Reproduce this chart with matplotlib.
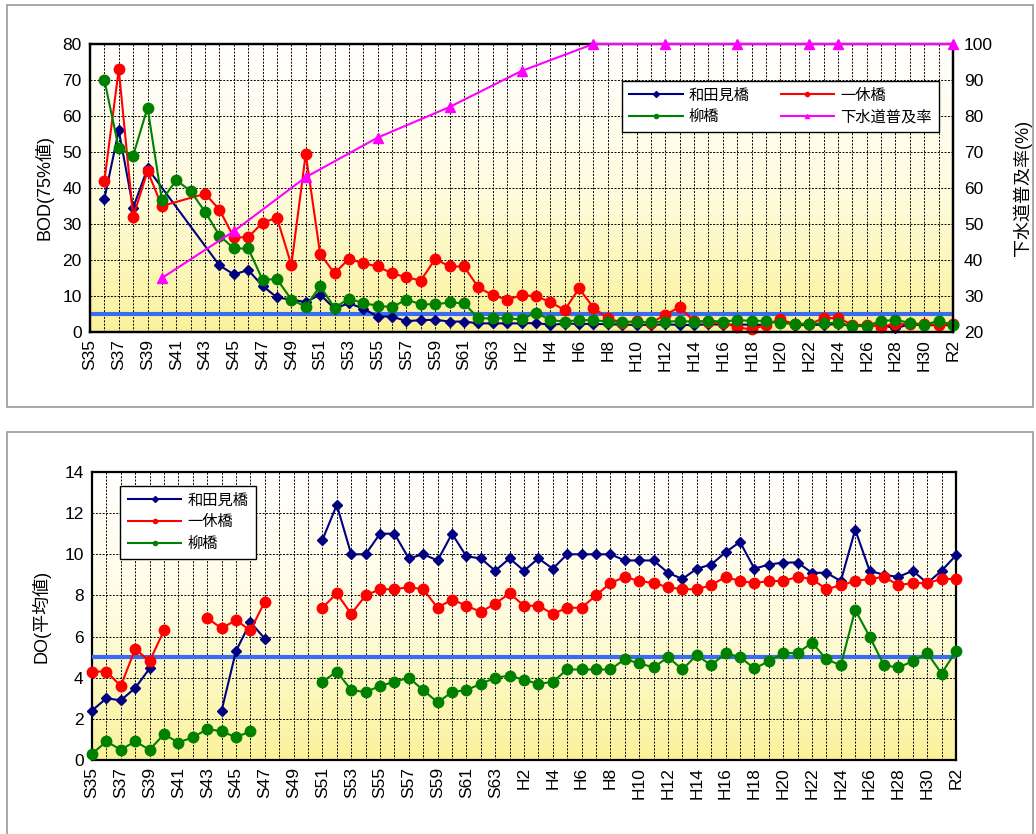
import numpy as np
import matplotlib
matplotlib.use("Agg")
import matplotlib.pyplot as plt
from matplotlib.lines import Line2D
from matplotlib.patches import Rectangle
from matplotlib.colors import LinearSegmentedColormap

plt.rcParams['font.family'] = ['Liberation Sans', 'Noto Sans CJK JP', 'DejaVu Sans']

nan = np.nan

# Years S35 .. S63, H1 .. H31(R1), R2
YEARS = ([f"S{y}" for y in range(35, 64)] + [f"H{y}" for y in range(1, 31)]
         + ["R1", "R2"])
TICK_LABELS = [y if i % 2 == 0 else "" for i, y in enumerate(YEARS)]

# BOD (75% value)
BOD_WADAMI = [nan, 37, 56, 34.5, 45.5, nan, nan, nan, nan, 18.5,
              16, 17.2, 12.8, 9.6, 9, 8.3, 10.4, 6.5, 8, 6.5,
              4.3, 4.3, 3, 3.3, 3.4, 2.9, 2.9, 2.4, 2.4, 2.4,
              2.4, 2.5, 2.0, 2.3, 2.3, 2.2, 2.2, 2.0, 2.0, 2.0,
              2.1, 2.0, 1.9, 2.2, 2.0, 2.1, 2.0, 2.0, 3.5, 1.8,
              2.0, 2.0, 2.2, 1.7, 1.6, 2.0, 1.0, 2.2, 1.8, 2.0, 1.8]
BOD_IKKYU = [nan, 42, 73, 32, 44.7, 35, nan, nan, 38.4, 34,
             26.3, 26.3, 30.4, 31.7, 18.6, 49.5, 21.7, 16.3, 20.3, 19.1,
             18.2, 16.3, 15.2, 14.3, 20.3, 18.2, 18.2, 12.4, 10.2, 9.0,
             10.2, 10.0, 8.3, 6.1, 12.1, 6.8, 3.8, 2.6, 3.0, 2.5,
             4.8, 6.9, 3.0, 2.8, 2.6, 1.3, 0.7, 2.0, 3.5, 2.2,
             2.2, 3.8, 3.9, 2.0, 2.0, 1.5, 2.3, 2.2, 2.3, 2.0, 2.2]
BOD_YANAGI = [nan, 70, 51, 49, 62.3, 36.6, 42.2, 39.1, 33.4, 26.8,
              23.2, 23.2, 14.5, 14.7, 9, 7, 12.8, 6.7, 9.3, 8.0,
              7.3, 6.9, 9.0, 7.7, 7.7, 8.2, 8.0, 3.8, 3.8, 3.8,
              3.5, 5.4, 3.3, 2.9, 3.3, 3.3, 2.9, 2.8, 2.9, 2.7,
              2.9, 3.0, 2.9, 3.1, 2.9, 3.3, 3.1, 3.1, 2.4, 2.3,
              2.3, 2.4, 2.6, 1.7, 1.7, 3.1, 3.3, 2.6, 2.0, 3.1, 2.0]

# Sewer coverage (%)
SEWER_IDX = [5, 10, 15, 20, 25, 30, 35, 40, 45, 50, 52, 60]
SEWER_RATE = [35, 48, 63, 74, 82.5, 92.5, 100, 100, 100, 100, 100, 100]

# DO (mean value)
DO_WADAMI = [2.4, 3.0, 2.9, 3.5, 4.45, nan, nan, nan, nan, 2.4,
             5.3, 6.7, 5.9, nan, nan, nan, 10.7, 12.4, 10.0, 10.0,
             11.0, 11.0, 9.8, 10.0, 9.7, 11.0, 9.9, 9.8, 9.2, 9.8,
             9.2, 9.8, 9.3, 10.0, 10.0, 10.0, 10.0, 9.7, 9.7, 9.7,
             9.1, 8.8, 9.3, 9.5, 10.1, 10.6, 9.3, 9.5, 9.6, 9.6,
             9.1, 9.1, 8.7, 11.2, 9.2, 9.0, 8.9, 9.2, 8.6, 9.2, 9.95]
DO_IKKYU = [4.3, 4.3, 3.6, 5.4, 4.8, 6.3, nan, nan, 6.9, 6.4,
            6.8, 6.3, 7.7, nan, nan, nan, 7.4, 8.1, 7.1, 8.0,
            8.3, 8.3, 8.4, 8.3, 7.4, 7.8, 7.5, 7.2, 7.6, 8.1,
            7.5, 7.5, 7.1, 7.4, 7.4, 8.0, 8.6, 8.9, 8.7, 8.6,
            8.4, 8.3, 8.3, 8.5, 8.9, 8.7, 8.6, 8.7, 8.7, 8.9,
            8.8, 8.3, 8.5, 8.7, 8.8, 8.9, 8.5, 8.6, 8.6, 8.8, 8.8]
DO_YANAGI = [0.3, 0.9, 0.5, 0.9, 0.5, 1.25, 0.85, 1.1, 1.5, 1.4,
             1.1, 1.4, nan, nan, nan, nan, 3.8, 4.3, 3.4, 3.3,
             3.6, 3.8, 4.0, 3.4, 2.8, 3.3, 3.4, 3.7, 4.0, 4.1,
             3.9, 3.7, 3.8, 4.4, 4.4, 4.4, 4.4, 4.9, 4.7, 4.5,
             5.0, 4.4, 5.1, 4.6, 5.2, 5.0, 4.45, 4.8, 5.2, 5.2,
             5.7, 4.9, 4.6, 7.3, 6.0, 4.6, 4.5, 4.8, 5.2, 4.2, 5.3]

BOD_STANDARD = 5
DO_STANDARD = 5

NAMES = ["和田見橋", "一休橋", "柳橋", "下水道普及率"]
C_BLUE = "#000080"
C_RED = "#FF0000"
C_GREEN = "#008000"
C_MAG = "#FF00FF"
C_STD = "#3A6BF0"

W, H = 1036, 834
fig = plt.figure(figsize=(W / 100, H / 100), dpi=100)

# panel frames
fig.patches.append(Rectangle((7 / W, 1 - 407 / H), 1026 / W, 402 / H, transform=fig.transFigure,
                             fill=False, edgecolor="#999999", lw=1.2))
fig.patches.append(Rectangle((7 / W, -0.01), 1026 / W, 1 - 432 / H + 0.01, transform=fig.transFigure,
                             fill=False, edgecolor="#999999", lw=1.2))

# white at top, yellow at bottom
grad = LinearSegmentedColormap.from_list("bg", ["#FAF29A", "#FFFCE0", "#FFFFFF"])
x = np.arange(len(YEARS))


def setup(ax, ymax, ystep):
    ax.imshow(np.linspace(0, 1, 256).reshape(-1, 1), cmap=grad, aspect="auto",
              extent=(0, len(YEARS) - 1, 0, ymax), origin="lower", zorder=0)
    ax.set_xlim(0, len(YEARS) - 1)
    ax.set_ylim(0, ymax)
    ax.set_yticks(np.arange(0, ymax + 0.1, ystep))
    ax.set_xticks(x)
    ax.set_xticklabels(TICK_LABELS, rotation=90, fontsize=12.5)
    ax.tick_params(axis="y", labelsize=12.5, length=0, pad=6)
    ax.tick_params(axis="x", length=0, pad=5)
    ax.grid(True, color="black", linestyle=(0, (2, 1.5)), linewidth=0.7)
    ax.set_axisbelow(False)
    for s in ax.spines.values():
        s.set_linewidth(1.6)


def plot_connected(ax, vals, color, marker, ms):
    v = np.array(vals, dtype=float)
    ok = ~np.isnan(v)
    ax.plot(x[ok], v[ok], color=color, marker=marker, markersize=ms, lw=1.5,
            clip_on=False, zorder=4)


# ---- BOD chart ----
ax1 = fig.add_axes([90 / W, 1 - 332 / H, 863 / W, 288 / H])
setup(ax1, 80, 10)
ax1.axhline(BOD_STANDARD, color=C_STD, lw=3, zorder=3)
plot_connected(ax1, BOD_WADAMI, C_BLUE, "D", 5.5)
plot_connected(ax1, BOD_IKKYU, C_RED, "o", 7.5)
plot_connected(ax1, BOD_YANAGI, C_GREEN, "o", 7.5)
ax1.set_ylabel("BOD(75%値)", fontsize=13, labelpad=6)

ax1r = ax1.twinx()
ax1r.set_ylim(20, 100)
ax1r.set_yticks(np.arange(20, 101, 10))
ax1r.tick_params(axis="y", labelsize=12.5, length=0, pad=8)
ax1r.plot(SEWER_IDX, SEWER_RATE, color=C_MAG, marker="^", markersize=7, lw=1.5,
          clip_on=False, zorder=5)
ax1r.set_ylabel("下水道普及率(%)", fontsize=13, labelpad=14)
for s in ax1r.spines.values():
    s.set_linewidth(1.6)

h = [Line2D([], [], color=C_BLUE, marker="D", markersize=3, lw=1.5),
     Line2D([], [], color=C_GREEN, marker="o", markersize=3, lw=1.5),
     Line2D([], [], color=C_RED, marker="o", markersize=3, lw=1.5),
     Line2D([], [], color=C_MAG, marker="^", markersize=3, lw=1.5)]
leg = ax1r.legend(h, [NAMES[0], NAMES[2], NAMES[1], NAMES[3]], ncol=2, loc="upper right",
                  bbox_to_anchor=(0.993, 0.899), fontsize=11, fancybox=False,
                  edgecolor="black", framealpha=1, handlelength=3.5, columnspacing=2,
                  borderpad=0.5, labelspacing=0.5, handletextpad=0.4)
leg.get_frame().set_linewidth(1.0)

# ---- DO chart ----
ax2 = fig.add_axes([92 / W, 1 - 760 / H, 864 / W, 288 / H])
setup(ax2, 14, 2)
ax2.axhline(DO_STANDARD, color=C_STD, lw=3, zorder=3)
ax2.plot(x, DO_WADAMI, color=C_BLUE, marker="D", markersize=5.5, lw=1.5, clip_on=False, zorder=4)
ax2.plot(x, DO_IKKYU, color=C_RED, marker="o", markersize=7.5, lw=1.5, clip_on=False, zorder=4)
ax2.plot(x, DO_YANAGI, color=C_GREEN, marker="o", markersize=7.5, lw=1.5, clip_on=False, zorder=4)
ax2.set_ylabel("DO(平均値)", fontsize=13, labelpad=10)

h2 = [Line2D([], [], color=C_BLUE, marker="D", markersize=3, lw=1.5),
      Line2D([], [], color=C_RED, marker="o", markersize=3, lw=1.5),
      Line2D([], [], color=C_GREEN, marker="o", markersize=3, lw=1.5)]
leg2 = ax2.legend(h2, NAMES[:3], loc="upper left", bbox_to_anchor=(0.024, 0.979),
                  fontsize=11, fancybox=False, edgecolor="black", framealpha=1,
                  handlelength=3.5, borderpad=0.5, labelspacing=0.5, handletextpad=0.4)
leg2.get_frame().set_linewidth(1.0)

fig.savefig("out.png", dpi=100)
